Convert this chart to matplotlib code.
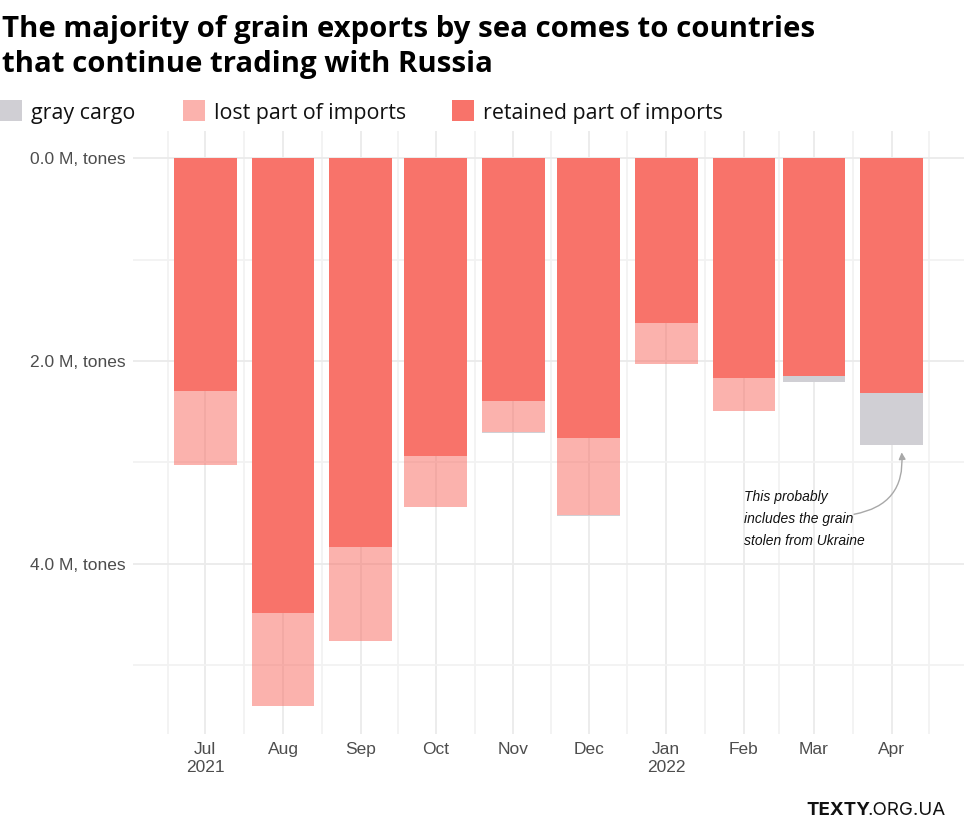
import numpy as np
import matplotlib
matplotlib.use("Agg")
import matplotlib.pyplot as plt
import matplotlib.dates as mdates
from matplotlib.patches import Rectangle
from matplotlib.ticker import FixedLocator
import datetime as dt

# data, million tonnes per month
months = ["2021-07-01", "2021-08-01", "2021-09-01", "2021-10-01", "2021-11-01",
          "2021-12-01", "2022-01-01", "2022-02-01", "2022-03-01", "2022-04-01"]
month_labels = ["Jul\n2021", "Aug", "Sep", "Oct", "Nov", "Dec",
                "Jan\n2022", "Feb", "Mar", "Apr"]
retained = [2.30, 4.48, 3.83, 2.94, 2.39, 2.76, 1.63, 2.17, 2.15, 2.32]
lost = [0.72, 0.92, 0.93, 0.50, 0.31, 0.76, 0.40, 0.32, 0.0, 0.0]
gray = [0.0, 0.0, 0.0, 0.0, 0.006, 0.006, 0.0, 0.0, 0.055, 0.51]
legend_labels = ["gray cargo", "lost part of imports", "retained part of imports"]

RED = "#F8736A"
GRAY = "#D0CFD4"
GRID = "#EBEBEB"
TICK = "#4D4D4D"
W, H = 972, 824

dates = mdates.date2num([dt.datetime.strptime(m, "%Y-%m-%d") for m in months])
retained = np.array(retained)
lost = np.array(lost)
gray = np.array(gray)

fig = plt.figure(figsize=(W / 100, H / 100), dpi=100)
ax = fig.add_axes([133 / W, 1 - 733.5 / H, (964 - 133) / W, (733.5 - 130.6) / H])

width = 25
ax.bar(dates, retained, width=width, color=RED, zorder=2)
ax.bar(dates, lost, width=width, bottom=retained, color=RED, alpha=0.55,
       linewidth=0, zorder=2)
ax.bar(dates, gray, width=width, bottom=retained + lost, color=GRAY,
       linewidth=0, zorder=2)

total_max = (retained + lost + gray).max()
pad = total_max * 0.05
ax.set_ylim(total_max + pad, -pad)
ax.set_xlim(dates[0] - 28.9, dates[-1] + 28.9)

# axes
ax.set_yticks([0, 2, 4])
ax.set_yticklabels(["0.0 M, tones", "2.0 M, tones", "4.0 M, tones"])
ax.yaxis.set_minor_locator(FixedLocator([1, 3, 5]))
ax.set_xticks(dates)
ax.set_xticklabels(month_labels)
mids = list((dates[:-1] + dates[1:]) / 2)
mids = [dates[0] - 15] + mids + [dates[-1] + 15]
ax.xaxis.set_minor_locator(FixedLocator(mids))

for lab in ax.get_xticklabels() + ax.get_yticklabels():
    lab.set_fontfamily("Liberation Sans")
    lab.set_fontsize(12.5)
    lab.set_color(TICK)
for lab in ax.get_xticklabels():
    lab.set_linespacing(1.3)

ax.tick_params(which="both", length=0)
ax.tick_params(axis="y", pad=5)
ax.tick_params(axis="x", pad=6)
ax.grid(which="major", color=GRID, linewidth=1.3, zorder=0)
ax.grid(which="minor", color="#F2F2F2", linewidth=1.3, zorder=0)
ax.set_axisbelow(True)
for s in ax.spines.values():
    s.set_visible(False)

# annotation
note_x = mdates.date2num(dt.datetime(2022, 2, 1))
ax.text(note_x, 3.56, "This probably\nincludes the grain\nstolen from Ukraine",
        fontfamily="Liberation Sans", style="italic", fontsize=10,
        va="center", ha="left", linespacing=1.72, color="#111111")
ax.annotate("", xy=(mdates.date2num(dt.datetime(2022, 4, 5)), 2.90),
            xytext=(mdates.date2num(dt.datetime(2022, 3, 17)), 3.51),
            arrowprops=dict(arrowstyle="-|>", color="#A8A8A8", lw=1.0,
                            mutation_scale=10, shrinkA=0, shrinkB=0,
                            connectionstyle="arc3,rad=0.45"))

# title
fig.text(0.002, 0.982, "The majority of grain exports by sea comes to countries\n"
         "that continue trading with Russia",
         fontfamily="Open Sans", fontweight="bold", fontsize=21.2,
         va="top", ha="left", linespacing=1.26)

# legend
leg_colors = [(GRAY, 1.0), (RED, 0.55), (RED, 1.0)]
leg_x = [0, 183, 452]
for (c, a), x0, lab in zip(leg_colors, leg_x, legend_labels):
    fig.add_artist(Rectangle((x0 / W, 1 - 121 / H), 22 / W, 21 / H,
                             transform=fig.transFigure, color=c, alpha=a,
                             linewidth=0))
    fig.text((x0 + 31) / W, 1 - 111 / H, lab, fontfamily="Open Sans",
             fontsize=15.4, va="center_baseline", ha="left", color="#111111")

# logo
t1 = fig.text(806 / W, 1 - 815 / H, "TEXTY", fontfamily="Inter", fontweight="bold",
              fontsize=13.5, color="#111111", va="baseline", ha="left")
ax.annotate(".ORG.UA", xy=(1, 0), xycoords=t1, xytext=(-1.5, 0),
            textcoords="offset points", va="bottom", ha="left",
            fontfamily="Inter", fontsize=13.5, color="#111111",
            annotation_clip=False)

fig.savefig("out.png", dpi=100)
